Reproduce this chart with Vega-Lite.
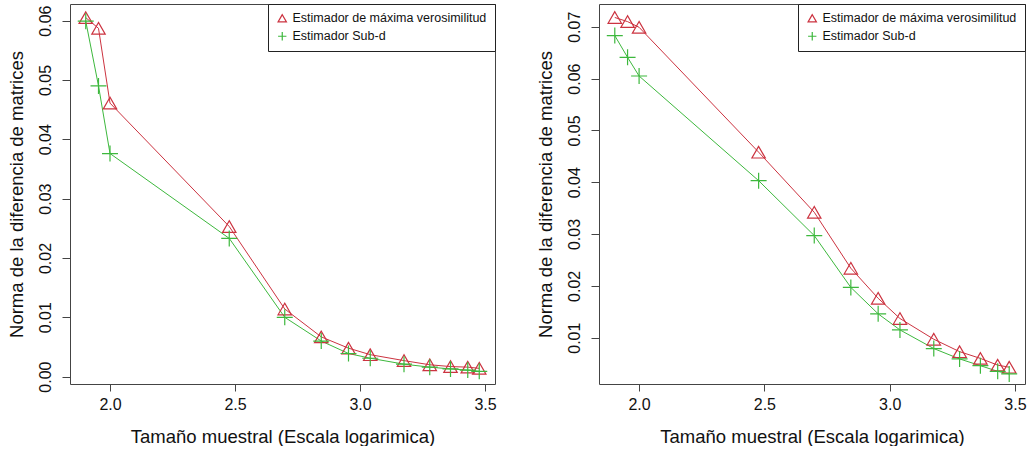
{
  "$schema": "https://vega.github.io/schema/vega-lite/v6.json",
  "background": "white",
  "padding": {"left": 6, "top": 3, "right": 0, "bottom": 0},
  "config": {
    "font": "Liberation Sans",
    "view": {"stroke": "#444", "strokeWidth": 1},
    "axis": {"grid": false, "domain": false, "tickColor": "#444", "tickSize": 8, "labelFontSize": 16, "titleFontSize": 18.5, "titleFontWeight": "normal", "labelColor": "#111", "titleColor": "#111", "labelFont": "Liberation Sans", "titleFont": "Liberation Sans"},
    "legend": {"labelFontSize": 12.5, "labelFont": "Liberation Sans", "labelColor": "#111", "labelLimit": 400}
  },
  "datasets": {
    "left": [
      {"serie": "Estimador de máxima verosimilitud", "x": 1.903, "y": 0.0605},
      {"serie": "Estimador de máxima verosimilitud", "x": 1.954, "y": 0.0587},
      {"serie": "Estimador de máxima verosimilitud", "x": 2.0, "y": 0.0461},
      {"serie": "Estimador de máxima verosimilitud", "x": 2.477, "y": 0.0253},
      {"serie": "Estimador de máxima verosimilitud", "x": 2.699, "y": 0.0114},
      {"serie": "Estimador de máxima verosimilitud", "x": 2.845, "y": 0.0067},
      {"serie": "Estimador de máxima verosimilitud", "x": 2.954, "y": 0.0048},
      {"serie": "Estimador de máxima verosimilitud", "x": 3.041, "y": 0.0037},
      {"serie": "Estimador de máxima verosimilitud", "x": 3.176, "y": 0.0027},
      {"serie": "Estimador de máxima verosimilitud", "x": 3.279, "y": 0.0020},
      {"serie": "Estimador de máxima verosimilitud", "x": 3.362, "y": 0.0017},
      {"serie": "Estimador de máxima verosimilitud", "x": 3.431, "y": 0.0016},
      {"serie": "Estimador de máxima verosimilitud", "x": 3.477, "y": 0.0014},
      {"serie": "Estimador Sub-d", "x": 1.903, "y": 0.0599},
      {"serie": "Estimador Sub-d", "x": 1.954, "y": 0.0490},
      {"serie": "Estimador Sub-d", "x": 2.0, "y": 0.0376},
      {"serie": "Estimador Sub-d", "x": 2.477, "y": 0.0233},
      {"serie": "Estimador Sub-d", "x": 2.699, "y": 0.0100},
      {"serie": "Estimador Sub-d", "x": 2.845, "y": 0.0060},
      {"serie": "Estimador Sub-d", "x": 2.954, "y": 0.0039},
      {"serie": "Estimador Sub-d", "x": 3.041, "y": 0.0031},
      {"serie": "Estimador Sub-d", "x": 3.176, "y": 0.0021},
      {"serie": "Estimador Sub-d", "x": 3.279, "y": 0.0016},
      {"serie": "Estimador Sub-d", "x": 3.362, "y": 0.0013},
      {"serie": "Estimador Sub-d", "x": 3.431, "y": 0.0011},
      {"serie": "Estimador Sub-d", "x": 3.477, "y": 0.0009}
    ],
    "right": [
      {"serie": "Estimador de máxima verosimilitud", "x": 1.903, "y": 0.0718},
      {"serie": "Estimador de máxima verosimilitud", "x": 1.954, "y": 0.0710},
      {"serie": "Estimador de máxima verosimilitud", "x": 2.0, "y": 0.0699},
      {"serie": "Estimador de máxima verosimilitud", "x": 2.477, "y": 0.0458},
      {"serie": "Estimador de máxima verosimilitud", "x": 2.699, "y": 0.0342},
      {"serie": "Estimador de máxima verosimilitud", "x": 2.845, "y": 0.0234},
      {"serie": "Estimador de máxima verosimilitud", "x": 2.954, "y": 0.0176},
      {"serie": "Estimador de máxima verosimilitud", "x": 3.041, "y": 0.0137},
      {"serie": "Estimador de máxima verosimilitud", "x": 3.176, "y": 0.0097},
      {"serie": "Estimador de máxima verosimilitud", "x": 3.279, "y": 0.0073},
      {"serie": "Estimador de máxima verosimilitud", "x": 3.362, "y": 0.0060},
      {"serie": "Estimador de máxima verosimilitud", "x": 3.431, "y": 0.0047},
      {"serie": "Estimador de máxima verosimilitud", "x": 3.477, "y": 0.0043},
      {"serie": "Estimador Sub-d", "x": 1.903, "y": 0.0683},
      {"serie": "Estimador Sub-d", "x": 1.954, "y": 0.0641},
      {"serie": "Estimador Sub-d", "x": 2.0, "y": 0.0605},
      {"serie": "Estimador Sub-d", "x": 2.477, "y": 0.0403},
      {"serie": "Estimador Sub-d", "x": 2.699, "y": 0.0297},
      {"serie": "Estimador Sub-d", "x": 2.845, "y": 0.0197},
      {"serie": "Estimador Sub-d", "x": 2.954, "y": 0.0146},
      {"serie": "Estimador Sub-d", "x": 3.041, "y": 0.0115},
      {"serie": "Estimador Sub-d", "x": 3.176, "y": 0.0079},
      {"serie": "Estimador Sub-d", "x": 3.279, "y": 0.0059},
      {"serie": "Estimador Sub-d", "x": 3.362, "y": 0.0046},
      {"serie": "Estimador Sub-d", "x": 3.431, "y": 0.0035},
      {"serie": "Estimador Sub-d", "x": 3.477, "y": 0.0030}
    ]
  },
  "spacing": 38,
  "resolve": {"scale": {"color": "independent", "shape": "independent", "x": "independent", "y": "independent"}, "legend": {"color": "independent", "shape": "independent"}},
  "hconcat": [
    {
      "width": 425,
      "height": 380,
      "data": {"name": "left"},
      "encoding": {
        "x": {"field": "x", "type": "quantitative", "scale": {"domain": [1.84, 3.54], "nice": false, "zero": false}, "axis": {"values": [2.0, 2.5, 3.0, 3.5], "format": ".1f", "title": "Tamaño muestral (Escala logarimica)", "tickSize": 7, "labelPadding": 5, "minExtent": 40, "maxExtent": 40, "titlePadding": 3}},
        "y": {"field": "y", "type": "quantitative", "scale": {"domain": [-0.00124, 0.0628], "nice": false, "zero": false}, "axis": {"values": [0, 0.01, 0.02, 0.03, 0.04, 0.05, 0.06], "format": ".2f", "labelAngle": -90, "labelPadding": 9, "title": "Norma de la diferencia de matrices", "minExtent": 40, "maxExtent": 40, "titlePadding": 4}},
        "color": {"field": "serie", "type": "nominal", "scale": {"domain": ["Estimador de máxima verosimilitud", "Estimador Sub-d"], "range": ["#CC3340", "#3DB83D"]}, "legend": {"title": null, "orient": "top-right", "offset": 0, "strokeColor": "#222", "padding": 8, "symbolSize": 70, "symbolStrokeWidth": 1.2, "rowPadding": 4, "fillColor": "white"}}
      },
      "layer": [
        {"mark": {"type": "line", "strokeWidth": 1}},
        {"mark": {"type": "point", "filled": false, "strokeWidth": 1.2, "opacity": 1},
         "encoding": {
           "shape": {"field": "serie", "type": "nominal", "scale": {"domain": ["Estimador de máxima verosimilitud", "Estimador Sub-d"], "range": ["triangle-up", "M-1,0H1M0,-1V1"]}, "legend": {"title": null, "orient": "top-right", "offset": 0}},
           "size": {"field": "serie", "type": "nominal", "scale": {"domain": ["Estimador de máxima verosimilitud", "Estimador Sub-d"], "range": [180, 256]}, "legend": null}
         }}
      ]
    },
    {
      "width": 426,
      "height": 380,
      "data": {"name": "right"},
      "encoding": {
        "x": {"field": "x", "type": "quantitative", "scale": {"domain": [1.84, 3.54], "nice": false, "zero": false}, "axis": {"values": [2.0, 2.5, 3.0, 3.5], "format": ".1f", "title": "Tamaño muestral (Escala logarimica)", "tickSize": 7, "labelPadding": 5, "minExtent": 40, "maxExtent": 40, "titlePadding": 3}},
        "y": {"field": "y", "type": "quantitative", "scale": {"domain": [0.00106, 0.0744], "nice": false, "zero": false}, "axis": {"values": [0.01, 0.02, 0.03, 0.04, 0.05, 0.06, 0.07], "format": ".2f", "labelAngle": -90, "labelPadding": 9, "title": "Norma de la diferencia de matrices", "minExtent": 40, "maxExtent": 40, "titlePadding": 4}},
        "color": {"field": "serie", "type": "nominal", "scale": {"domain": ["Estimador de máxima verosimilitud", "Estimador Sub-d"], "range": ["#CC3340", "#3DB83D"]}, "legend": {"title": null, "orient": "top-right", "offset": 0, "strokeColor": "#222", "padding": 8, "symbolSize": 70, "symbolStrokeWidth": 1.2, "rowPadding": 4, "fillColor": "white"}}
      },
      "layer": [
        {"mark": {"type": "line", "strokeWidth": 1}},
        {"mark": {"type": "point", "filled": false, "strokeWidth": 1.2, "opacity": 1},
         "encoding": {
           "shape": {"field": "serie", "type": "nominal", "scale": {"domain": ["Estimador de máxima verosimilitud", "Estimador Sub-d"], "range": ["triangle-up", "M-1,0H1M0,-1V1"]}, "legend": {"title": null, "orient": "top-right", "offset": 0}},
           "size": {"field": "serie", "type": "nominal", "scale": {"domain": ["Estimador de máxima verosimilitud", "Estimador Sub-d"], "range": [180, 256]}, "legend": null}
         }}
      ]
    }
  ]
}
